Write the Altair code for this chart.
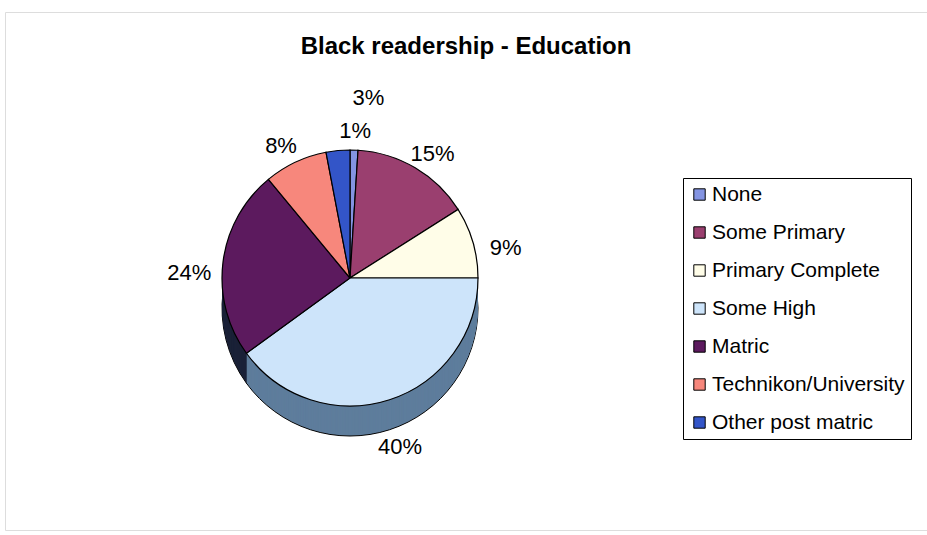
import altair as alt
import pandas as pd

categories = ["None", "Some Primary", "Primary Complete", "Some High", "Matric",
              "Technikon/University", "Other post matric"]
values = [1, 15, 9, 40, 24, 8, 3]
top_colors = ["#8494e2", "#9a3f6f", "#fffde8", "#cde4fa", "#5c1a5e", "#f7877c", "#3355c8"]
side_colors = ["#4a5590", "#5a2040", "#9a9880", "#5e7d9c", "#1b2238", "#8a4a44", "#1f3478"]

df = pd.DataFrame({"cat": categories, "value": values, "idx": list(range(len(categories)))})

FONT = "Liberation Sans"
CX, CY = 345, 266      # centre of the top face (relative to plot area)
R = 128
DEPTH = 30

theta = alt.Theta("value:Q", stack=True)
order = alt.Order("idx:Q")
side_fill = alt.Fill("cat:N", scale=alt.Scale(domain=categories, range=side_colors), legend=None)

base = alt.Chart(df)

layers = []
# side wall: bottom outline first
layers.append(
    base.mark_arc(outerRadius=R, stroke="black", strokeWidth=1).encode(
        theta=theta, order=order, fill=side_fill,
        x=alt.value(CX), y=alt.value(CY + DEPTH),
    )
)
for k in range(DEPTH - 1, 0, -1):
    layers.append(
        base.mark_arc(outerRadius=R, strokeWidth=0).encode(
            theta=theta, order=order, fill=side_fill,
            x=alt.value(CX), y=alt.value(CY + k),
        )
    )
# top face
layers.append(
    base.mark_arc(outerRadius=R, stroke="black", strokeWidth=1.2).encode(
        theta=theta, order=order,
        fill=alt.Fill("cat:N", scale=alt.Scale(domain=categories, range=top_colors),
                      sort=categories,
                      legend=alt.Legend(title=None, orient="none", legendX=678, legendY=166,
                                        symbolType="square", symbolSize=130,
                                        symbolStrokeColor="black", symbolStrokeWidth=1,
                                        labelFont=FONT, labelFontSize=21, labelColor="black",
                                        labelLimit=300, rowPadding=16, labelOffset=2,
                                        padding=6, strokeColor="black",
                                        fillColor="white")),
        x=alt.value(CX), y=alt.value(CY),
    )
)
# labels
layers.append(
    base.transform_calculate(
        label="datum.value + '%'",
        r="datum.cat == 'Other post matric' ? 196 : 162",
    ).mark_text(font=FONT, fontSize=22, color="black").encode(
        theta=theta, order=order,
        radius=alt.Radius("r:Q", scale=None),
        text="label:N",
        x=alt.value(CX), y=alt.value(CY + DEPTH / 2),
    )
)

chart = alt.layer(*layers).resolve_scale(fill="independent").properties(
    width=922, height=518,
    autosize=alt.AutoSizeParams(type="none"),
    padding={"left": 5, "top": 12, "right": 0, "bottom": 5},
    title=alt.TitleParams("Black readership - Education", font=FONT, fontSize=24,
                          fontWeight="bold", color="black", anchor="middle", offset=-47),
).configure_view(stroke="#9a9a9a", strokeWidth=1.5).configure(background="white")

chart.save("out.html", embed_options={"renderer": "svg", "actions": False})
